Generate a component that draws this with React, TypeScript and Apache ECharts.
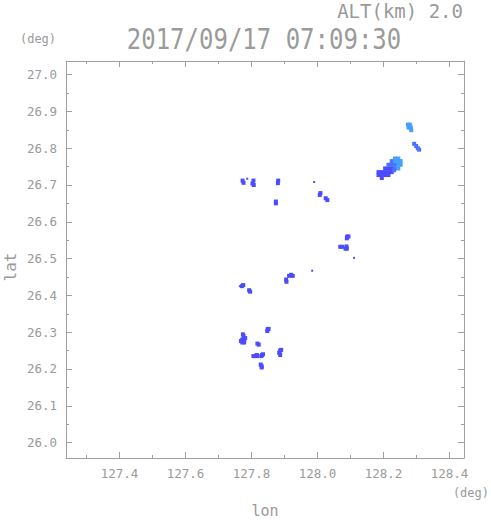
import React, { useEffect, useRef } from "react";
import * as echarts from "echarts";

// ---- axis ticks ----
const lonMajor = [127.4, 127.6, 127.8, 128.0, 128.2, 128.4];
const lonMinor = [127.3, 127.5, 127.7, 127.9, 128.1, 128.3];
const latMajor = [26.0, 26.1, 26.2, 26.3, 26.4, 26.5, 26.6, 26.7, 26.8, 26.9, 27.0];
const latMinor = [26.05, 26.15, 26.25, 26.35, 26.45, 26.55, 26.65, 26.75, 26.85, 26.95];

// ---- texts ----
const altText = "ALT(km) 2.0";
const timeText = "2017/09/17 07:09:30";
const unitText = "(deg)";
const xName = "lon";
const yName = "lat";

// ---- echo cells [lon, lat] ----
const darkEchoes: [number, number][] = [
  // NE main blob, lower-left part
  [128.205, 26.745], [128.215, 26.745], [128.225, 26.745],
  [128.185, 26.735], [128.195, 26.735], [128.205, 26.735], [128.215, 26.735], [128.225, 26.735],
  [128.185, 26.727], [128.195, 26.727], [128.205, 26.727], [128.215, 26.727],
  [128.195, 26.719],
  // scattered
  [127.773, 26.712], [127.776, 26.706],
  [127.806, 26.712], [127.803, 26.704], [127.807, 26.7],
  [127.881, 26.712], [127.88, 26.705],
  [127.874, 26.655], [127.874, 26.65],
  [128.009, 26.678], [128.007, 26.673],
  [128.025, 26.664], [128.03, 26.659],
  [128.09, 26.56], [128.094, 26.56], [128.089, 26.555],
  [128.069, 26.532], [128.075, 26.532],
  [128.088, 26.533], [128.085, 26.527], [128.089, 26.527],
  [127.914, 26.453], [127.92, 26.456], [127.925, 26.453],
  [127.905, 26.443], [127.906, 26.437],
  [127.775, 26.428], [127.771, 26.425],
  [127.793, 26.414], [127.796, 26.41],
  [127.849, 26.308], [127.852, 26.309], [127.848, 26.303],
  [127.774, 26.294], [127.776, 26.29],
  [127.772, 26.28], [127.778, 26.28], [127.772, 26.272], [127.778, 26.272], [127.781, 26.284], [127.768, 26.276],
  [127.818, 26.269], [127.822, 26.266],
  [127.806, 26.235], [127.812, 26.235], [127.818, 26.235], [127.816, 26.238],
  [127.832, 26.238], [127.835, 26.24], [127.83, 26.235],
  [127.887, 26.25], [127.884, 26.244], [127.887, 26.238], [127.89, 26.252],
  [127.828, 26.212], [127.831, 26.207], [127.831, 26.204],
];
const tinyEchoes: [number, number][] = [
  [127.787, 26.717], [127.99, 26.708], [128.111, 26.502], [127.984, 26.467], [127.765, 26.425],
];
const mediumEchoes: [number, number][] = [
  [128.225, 26.755], [128.215, 26.755], [128.235, 26.745], [128.232, 26.74],
  [128.225, 26.765], [128.235, 26.755],
  [128.293, 26.812], [128.299, 26.806], [128.304, 26.8], [128.308, 26.796],
];
const lightEchoes: [number, number][] = [
  [128.235, 26.772], [128.245, 26.772], [128.235, 26.765], [128.245, 26.765], [128.252, 26.765],
  [128.245, 26.755], [128.252, 26.755], [128.245, 26.745],
  [128.274, 26.864], [128.28, 26.864], [128.276, 26.856], [128.283, 26.856], [128.284, 26.849],
];

const GRAY = "#9a9a9a";
const LINE = "#a0a0a0";
const MONO = "'DejaVu Sans Mono', 'Liberation Mono', monospace";

const LON_MIN = 127.238;
const LON_MAX = 128.444;
const LAT_MIN = 25.958;
const LAT_MAX = 27.037;

function xAxisDef(position: "top" | "bottom", values: number[], len: number, labels: boolean, line: boolean) {
  return {
    type: "value",
    position,
    min: LON_MIN,
    max: LON_MAX,
    axisLine: { show: line, onZero: false, lineStyle: { color: LINE, width: 1 } },
    axisTick: { show: true, inside: true, length: len, customValues: values, lineStyle: { color: LINE, width: 1 } },
    axisLabel: labels
      ? { show: true, customValues: values, margin: 9, color: GRAY, fontFamily: MONO, fontSize: 12.5, formatter: (v: number) => v.toFixed(1) }
      : { show: false },
    splitLine: { show: false },
  };
}
function yAxisDef(position: "left" | "right", values: number[], len: number, labels: boolean, line: boolean) {
  return {
    type: "value",
    position,
    min: LAT_MIN,
    max: LAT_MAX,
    axisLine: { show: line, onZero: false, lineStyle: { color: LINE, width: 1 } },
    axisTick: { show: true, inside: true, length: len, customValues: values, lineStyle: { color: LINE, width: 1 } },
    axisLabel: labels
      ? { show: true, customValues: values, margin: 9, color: GRAY, fontFamily: MONO, fontSize: 12.5, formatter: (v: number) => v.toFixed(1) }
      : { show: false },
    splitLine: { show: false },
  };
}

export default function App() {
  const ref = useRef<HTMLDivElement>(null);
  useEffect(() => {
    if (!ref.current) return;
    const chart = echarts.init(ref.current, null, { renderer: "svg" });
    const scatter = (data: [number, number][], color: string, size: number) => ({
      type: "scatter",
      xAxisIndex: 0,
      yAxisIndex: 0,
      symbol: "rect",
      symbolSize: [size, size],
      data,
      itemStyle: { color, opacity: 1 },
      emphasis: { disabled: true },
    });
    chart.setOption({
      animation: false,
      backgroundColor: "#ffffff",
      grid: { left: 66, top: 61, width: 398, height: 397, containLabel: false, outerBoundsMode: "none" },
      xAxis: [
        xAxisDef("bottom", lonMajor, 6, true, true),
        xAxisDef("bottom", lonMinor, 3, false, false),
        xAxisDef("top", lonMajor, 6, false, true),
        xAxisDef("top", lonMinor, 3, false, false),
      ],
      yAxis: [
        yAxisDef("left", latMajor, 6, true, true),
        yAxisDef("left", latMinor, 3, false, false),
        yAxisDef("right", latMajor, 6, false, true),
        yAxisDef("right", latMinor, 3, false, false),
      ],
      series: [
        scatter(darkEchoes, "#4b4bff", 4),
        scatter(tinyEchoes, "#4b4bff", 2),
        scatter(mediumEchoes, "#4a72ff", 4),
        scatter(lightEchoes, "#45a0ff", 4),
      ],
      graphic: [
        { type: "text", x: 463, y: 11, style: { text: altText, fill: GRAY, font: `19px ${MONO}`, textAlign: "right", textVerticalAlign: "middle" } },
        { type: "text", x: 264, y: 39, scaleY: 1.2, style: { text: timeText, fill: GRAY, font: `24px ${MONO}`, textAlign: "center", textVerticalAlign: "middle" } },
        { type: "text", x: 38, y: 39, style: { text: unitText, fill: GRAY, font: `12px ${MONO}`, textAlign: "center", textVerticalAlign: "middle" } },
        { type: "text", x: 489, y: 493, style: { text: unitText, fill: GRAY, font: `12px ${MONO}`, textAlign: "right", textVerticalAlign: "middle" } },
        { type: "text", x: 265, y: 511, style: { text: xName, fill: GRAY, font: `15px ${MONO}`, textAlign: "center", textVerticalAlign: "middle" } },
        { type: "text", x: 10, y: 267, rotation: Math.PI / 2, style: { text: yName, fill: GRAY, font: `16px ${MONO}`, textAlign: "center", textVerticalAlign: "middle" } },
      ],
    });
    return () => chart.dispose();
  }, []);
  return <div ref={ref} style={{ width: 491, height: 521, position: "absolute", left: 0, top: 0 }} />;
}
